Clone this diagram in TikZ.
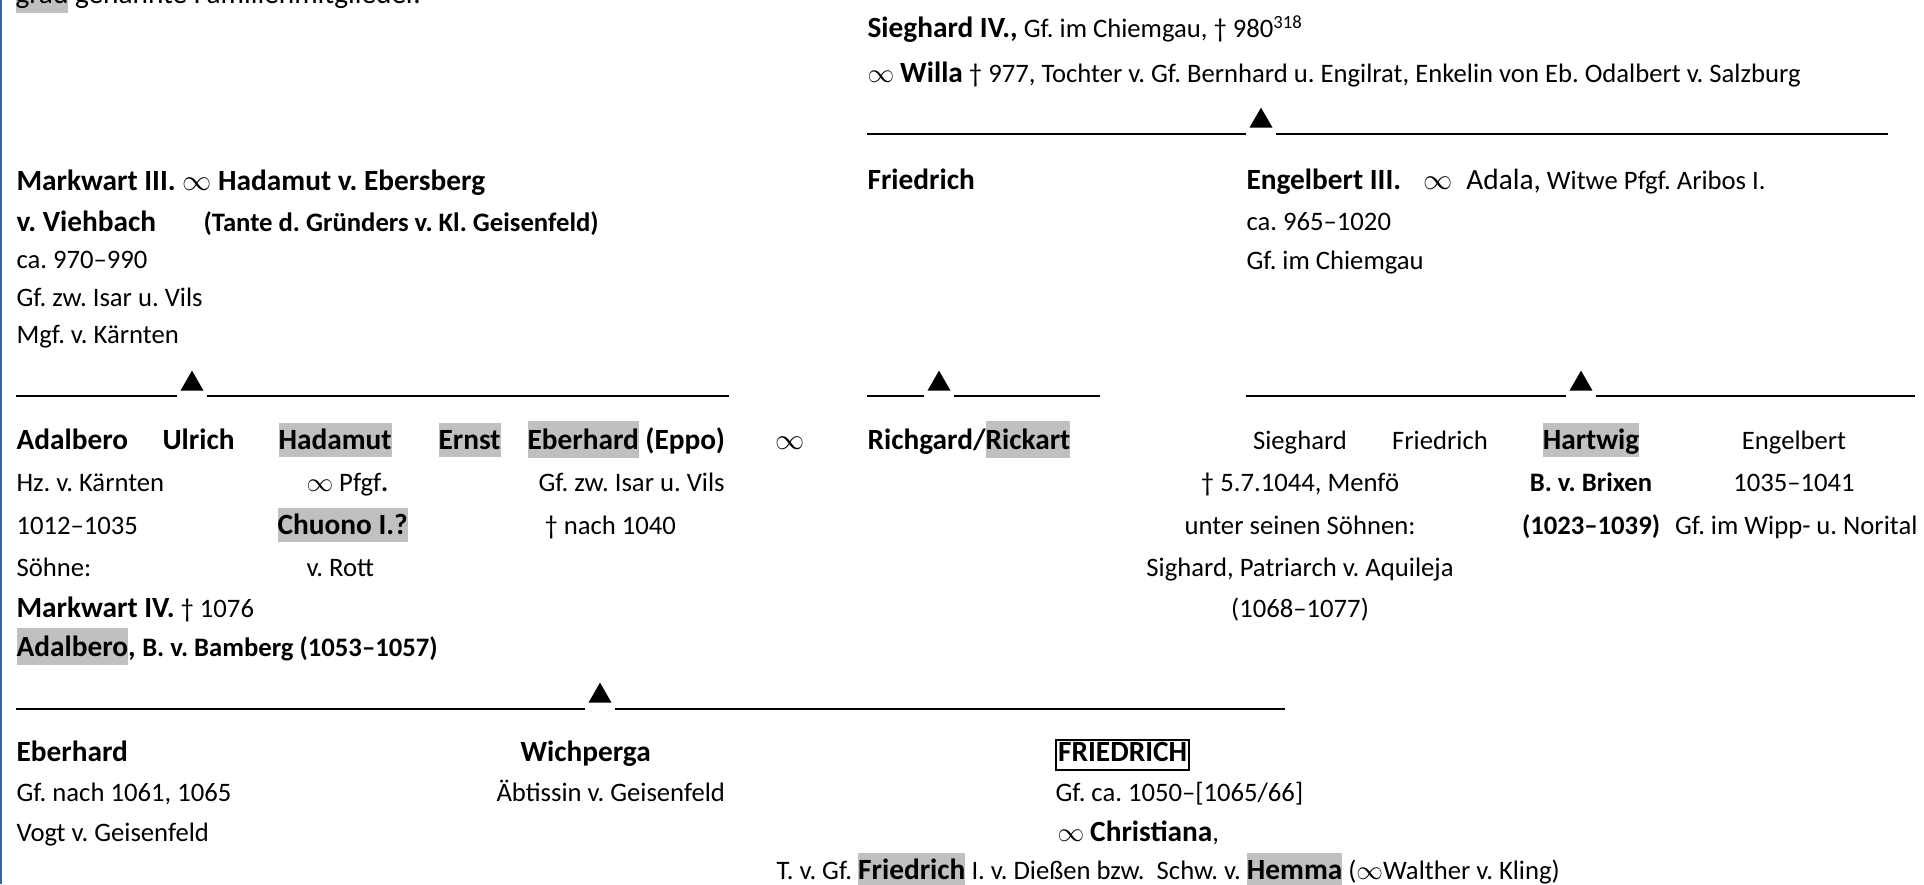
\documentclass[tikz,border=0pt]{standalone}
\usepackage{fontspec}
\setmainfont{Carlito}
\usetikzlibrary{shapes.geometric}
\definecolor{hlg}{HTML}{C0C0C0}
\definecolor{edgeblue}{HTML}{3B6396}
\newcommand{\hl}[1]{{\setlength{\fboxsep}{0pt}\colorbox{hlg}{\rule[-0.3em]{0pt}{1.26em}#1}}}
\newcommand{\nm}[1]{{\fontsize{11}{13}\selectfont\bfseries #1}}
\tikzset{
  txt/.style={anchor=base west, inner sep=0pt, font=\fontsize{10}{12}\selectfont},
  ctr/.style={txt, anchor=base},
  tri/.style={regular polygon, regular polygon sides=3, fill=black, inner sep=0pt, minimum size=10pt},
  famline/.style={line width=1.1pt},
}

\begin{document}
\frenchspacing
\begin{tikzpicture}[x=0.375pt, y=-0.375pt]
  \useasboundingbox (0,0) rectangle (1924,884);
  \fill[edgeblue] (0,0) rectangle (2,884);
  \node[txt, font=\fontsize{11}{13}\selectfont] (note) at (15,4) {\hl{grau} genannte Familienmitglieder.};
  % Sieghard IV.
  \node[txt] (sieg) at (867,38) {\nm{Sieghard IV.,} Gf. im Chiemgau, † 980\textsuperscript{318}};
  \node[txt] (willa) at (867,83) {$\infty$ \nm{Willa} † 977, Tochter v. Gf. Bernhard u. Engilrat, Enkelin von Eb. Odalbert v. Salzburg};
  \node[tri] (t1) at (1261,121) {};
  \coordinate (a1) at (867,134); \coordinate (b1) at (1888,134);
  \draw[famline] (a1) -- ([xshift=-1.1pt]a1 -| t1.corner 2);
  \draw[famline] ([xshift=1.1pt]b1 -| t1.corner 3) -- (b1);
  % Markwart III.
  \node[txt] (mark) at (16,191) {\nm{Markwart III. $\infty$ Hadamut v. Ebersberg}};
  \node[txt] (mark2) at (16,232) {\nm{v. Viehbach}};
  \node[txt] (tante) at (203,232) {\bfseries (Tante d. Gründers v. Kl. Geisenfeld)};
  \node[txt] (mark3) at (16,269) {ca. 970–990};
  \node[txt] (mark4) at (16,306) {Gf. zw. Isar u. Vils};
  \node[txt] (mark5) at (16,343) {Mgf. v. Kärnten};
  \node[txt] (fri) at (867,190) {\nm{Friedrich}};
  \node[txt] (eng) at (1246,190) {\nm{Engelbert III.}\hspace{8.5pt}{\fontsize{11}{13}\selectfont$\infty$\hspace{5pt}Adala,} Witwe Pfgf. Aribos I.};
  \node[txt] (eng2) at (1246,231) {ca. 965–1020};
  \node[txt] (eng3) at (1246,270) {Gf. im Chiemgau};
  \node[tri] (t2) at (192,384) {};
  \node[tri] (t3) at (939,384) {};
  \node[tri] (t4) at (1581,384) {};
  \coordinate (a2) at (16,396);   \coordinate (b2) at (729,396);
  \coordinate (a3) at (867,396);  \coordinate (b3) at (1100,396);
  \coordinate (a4) at (1246,396); \coordinate (b4) at (1915,396);
  \foreach \t/\a/\b in {t2/a2/b2, t3/a3/b3, t4/a4/b4}{
    \draw[famline] (\a) -- ([xshift=-1.1pt]\a -| \t.corner 2);
    \draw[famline] ([xshift=1.1pt]\b -| \t.corner 3) -- (\b);
  }
  % children
  \node[txt] (adal) at (16,449) {\nm{Adalbero}};
  \node[txt] (ulr) at (162,449) {\nm{Ulrich}};
  \node[txt] (hada) at (278,449) {\hl{\nm{Hadamut}}};
  \node[txt] (ernst) at (438,449) {\hl{\nm{Ernst}}};
  \node[txt] (eppo) at (527,449) {\nm{\hl{Eberhard} (Eppo)}};
  \node[txt, font=\fontsize{11}{13}\selectfont] (oo) at (775,449) {$\infty$};
  \node[txt] (adal2) at (16,491) {Hz. v. Kärnten};
  \node[txt] (adal3) at (16,534) {1012–1035};
  \node[txt] (adal4) at (16,576) {Söhne:};
  \node[txt] (adal5) at (16,617) {\nm{Markwart IV.} † 1076};
  \node[txt] (adal6) at (16,656) {\nm{\hl{Adalbero}, {\fontsize{10}{12}\selectfont B. v. Bamberg (1053–1057)}}};
  \node[txt] (hada2) at (306,491) {$\infty$ Pfgf\textbf{.}};
  \node[txt] (hada3) at (277,534) {\hl{\nm{Chuono I.?}}};
  \node[txt] (hada4) at (306,576) {v. Rott};
  \node[txt] (eppo2) at (538,491) {Gf. zw. Isar u. Vils};
  \node[txt] (eppo3) at (544,534) {† nach 1040};
  \node[txt] (rich) at (867,449) {\nm{Richgard/\hl{Rickart}}};
  \node[ctr] (sg) at (1300,449) {Sieghard};
  \node[ctr] (sg2) at (1300,491) {† 5.7.1044, Menfö};
  \node[ctr] (sg3) at (1300,534) {unter seinen Söhnen:};
  \node[ctr] (sg4) at (1300,576) {Sighard, Patriarch v. Aquileja};
  \node[ctr] (sg5) at (1300,617) {(1068–1077)};
  \node[ctr] (fr) at (1440,449) {Friedrich};
  \node[ctr] (hart) at (1591,449) {\hl{\nm{Hartwig}}};
  \node[ctr] (hart2) at (1591,491) {\bfseries B. v. Brixen};
  \node[ctr] (hart3) at (1591,534) {\bfseries (1023–1039)};
  \node[ctr] (engb) at (1794,449) {Engelbert};
  \node[ctr] (engb2) at (1794,491) {1035–1041};
  \node[txt, anchor=base east] (engb3) at (1918,534) {Gf. im Wipp- u. Norital};
  \node[tri] (t5) at (600,696) {};
  \coordinate (a5) at (16,709); \coordinate (b5) at (1285,709);
  \draw[famline] (a5) -- ([xshift=-1.1pt]a5 -| t5.corner 2);
  \draw[famline] ([xshift=1.1pt]b5 -| t5.corner 3) -- (b5);
  % grandchildren
  \node[txt] (eb) at (16,761) {\nm{Eberhard}};
  \node[txt] (eb2) at (16,801) {Gf. nach 1061, 1065};
  \node[txt] (eb3) at (16,841) {Vogt v. Geisenfeld};
  \node[txt] (wich) at (520,761) {\nm{Wichperga}};
  \node[txt] (wich2) at (496,801) {Äbtissin v. Geisenfeld};
  \node[txt, draw, line width=0.75pt, inner xsep=0.8pt, inner ysep=0.3pt] (fried) at (1055,761) {\nm{\rule[-0.28em]{0pt}{0.98em}FRIEDRICH}};
  \node[txt] (fried2) at (1055,801) {Gf. ca. 1050–[1065/66]};
  \node[txt] (fried3) at (1057,841) {$\infty$ \nm{Christiana},};
  \node[txt] (fried4) at (776,879) {T. v. Gf. \hl{\nm{Friedrich}} I. v. Dießen bzw.\ \ Schw. v. \hl{\nm{Hemma}} ($\infty$Walther v. Kling)};
\end{tikzpicture}
\end{document}
